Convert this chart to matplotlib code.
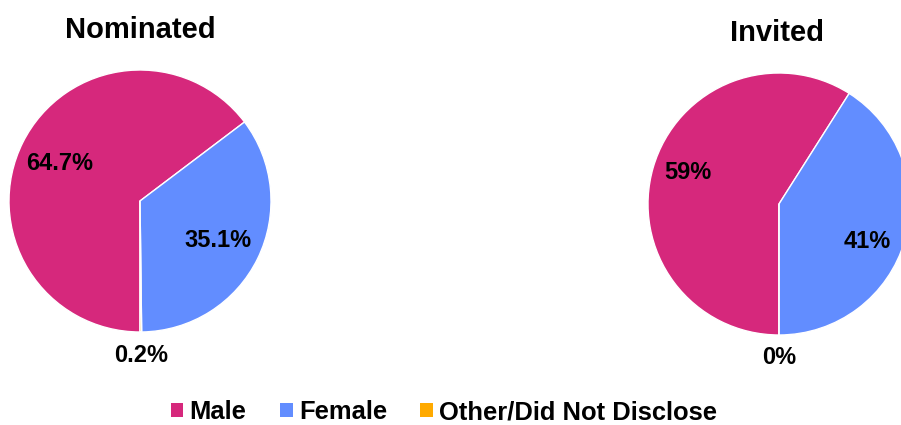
import numpy as np
import matplotlib.pyplot as plt
from matplotlib.patches import Patch

W, H = 901, 425

categories = ["Male", "Female", "Other/Did Not Disclose"]
colors = ["#D6287C", "#628DFF", "#FFAA00"]

nominated = [64.7, 35.1, 0.2]
invited = [59, 41, 0]
nominated_labels = ["64.7%", "35.1%", "0.2%"]
invited_labels = ["59%", "41%", "0%"]

plt.rcParams["font.family"] = ["Liberation Sans", "DejaVu Sans"]
plt.rcParams["font.weight"] = "bold"


def px_axes(fig, cx, cy, r):
    # axes box in pixel coords (origin top-left) around a pie of radius r
    return fig.add_axes([(cx - r) / W, 1 - (cy + r) / H, 2 * r / W, 2 * r / H])


def draw_pie(ax, values, labels, dists, shifts):
    ax.pie(
        values,
        colors=colors,
        startangle=270,
        counterclock=False,
        radius=1,
        wedgeprops=dict(edgecolor="white", linewidth=1),
    )
    # label each slice at its mid-angle (plus a small nudge)
    total = sum(values)
    angle = 270.0
    for val, lab, d, s in zip(values, labels, dists, shifts):
        span = 360.0 * val / total
        mid = np.deg2rad(angle - span / 2 + s)
        angle -= span
        ax.text(d * np.cos(mid), d * np.sin(mid), lab,
                ha="center", va="center", fontsize=17, fontweight="bold")
    ax.set_xlim(-1, 1)
    ax.set_ylim(-1, 1)
    ax.set_aspect("equal")
    ax.axis("off")


fig = plt.figure(figsize=(W / 100, H / 100), dpi=100)

ax1 = px_axes(fig, 140, 201, 131)
draw_pie(ax1, nominated, nominated_labels, [0.68, 0.67, 1.18], [1.5, -0.5, 0])

ax2 = px_axes(fig, 779, 204, 131)
draw_pie(ax2, invited, invited_labels, [0.74, 0.73, 1.17], [-3, -7, 0])

fig.text(140 / W, 1 - 30 / H, "Nominated", ha="center", va="center",
         fontsize=21, fontweight="bold")
fig.text(777 / W, 1 - 33 / H, "Invited", ha="center", va="center",
         fontsize=21, fontweight="bold")

handles = [Patch(facecolor=c, edgecolor="none") for c in colors]
fig.legend(handles, categories, loc="center", bbox_to_anchor=(444 / W, 1 - 412 / H),
           ncol=3, frameon=False, prop=dict(size=18.4, weight="bold"),
           handlelength=0.5, handleheight=0.5, handletextpad=0.25,
           columnspacing=1.3, borderpad=0.1)

fig.savefig("out.png", dpi=100)
